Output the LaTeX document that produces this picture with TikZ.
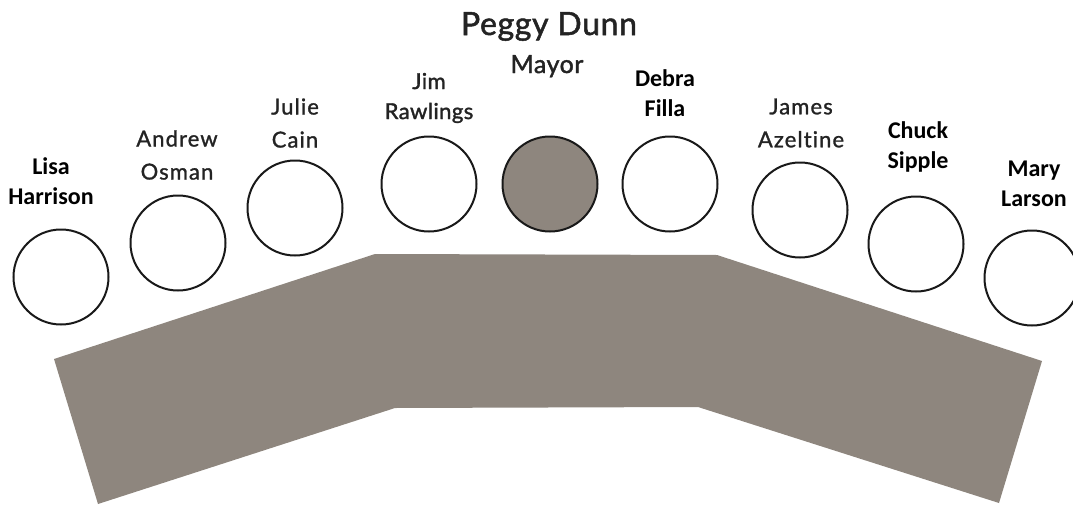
\documentclass[tikz,border=0pt]{standalone}
\usepackage{fontspec}
\setmainfont{Carlito}
\newfontfamily\gillfont[LetterSpace=5, FakeBold=1.2, Ligatures=NoCommon]{Lato}
\newfontfamily\gilltitle[LetterSpace=2, FakeBold=1.6, Ligatures=NoCommon]{Lato}
\usetikzlibrary{positioning}
\definecolor{tablegray}{RGB}{142,134,126}
\definecolor{inkgray}{RGB}{35,35,35}
\tikzset{
    seat/.style={circle, draw=black!90, line width=2pt, fill=white, minimum size=95pt, inner sep=0pt}, % a chair at the dais
    mayorseat/.style={seat, fill=tablegray}, % the mayor's chair
    boldname/.style={font=\fontsize{24}{30}\selectfont\bfseries, align=center, text=black},
    gillname/.style={font=\gillfont\fontsize{22}{33}\selectfont, align=center, text=inkgray}
}

\begin{document}
\begin{tikzpicture}[x=1pt, y=-1pt]
            \useasboundingbox (0,0) rectangle (1073,506);
            % the dais
            \fill[tablegray] (54,359) -- (375,254) -- (717,255) -- (1042,361) -- (999,503)
                -- (698,407) -- (395,408) -- (98,504) -- cycle;

            % chairs
            \node[seat] (lisa) at (61,277) {};
            \node[seat] (andrew) at (178,243) {};
            \node[seat] (julie) at (295,208) {};
            \node[seat] (jim) at (429,184) {};
            \node[mayorseat] (mayor) at (550,184) {};
            \node[seat] (debra) at (670,184) {};
            \node[seat] (james) at (800,210) {};
            \node[seat] (chuck) at (916,244) {};
            \node[seat] (mary) at (1032,278) {};

            % names
            \node[gillname, font=\gilltitle\fontsize{32}{33}\selectfont, anchor=base] (peggy) at (549,35) {Peggy Dunn};
            \node[gillname, font=\gilltitle\fontsize{25}{30}\selectfont, anchor=base] (mayortitle) at (547,73) {Mayor};
            \node[boldname] (lisaname) at (51,181) {Lisa\\Harrison};
            \node[gillname] (andrewname) at (177,155) {Andrew\\Osman};
            \node[gillname] (juliename) at (295,123) {Julie\\Cain};
            \node[gillname, font=\gilltitle\fontsize{22}{30}\selectfont] (jimname) at (429,98) {Jim\\Rawlings};
            \node[boldname] (debraname) at (665,93) {Debra\\Filla};
            \node[gillname] (jamesname) at (801,123) {James\\Azeltine};
            \node[boldname] (chuckname) at (918,147) {Chuck\\Sipple};
            \node[boldname] (maryname) at (1034,184) {Mary\\Larson};
        \end{tikzpicture}
\end{document}
